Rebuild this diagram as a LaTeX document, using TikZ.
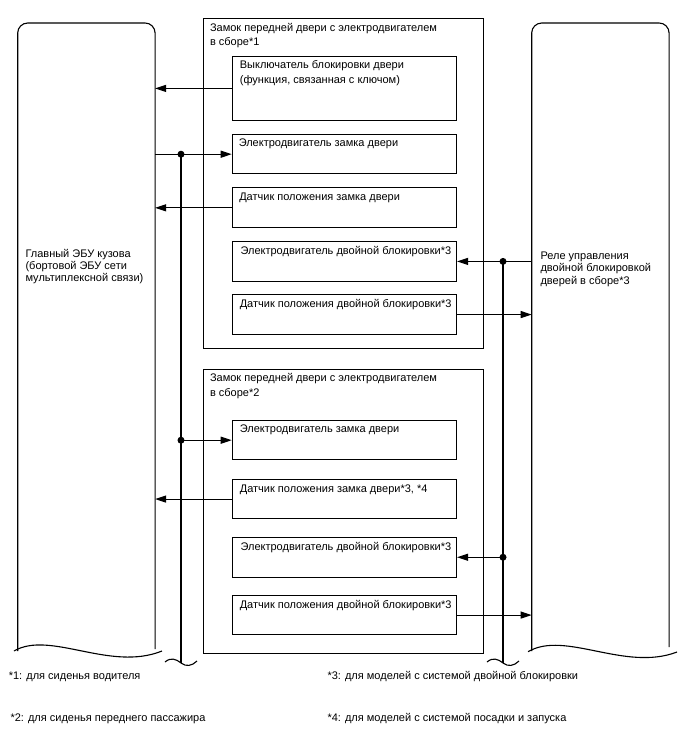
\documentclass[tikz,border=0pt]{standalone}
\usepackage{fontspec}
\setmainfont{Liberation Sans}
\usetikzlibrary{arrows.meta}

\begin{document}
\begin{tikzpicture}[x=1pt, y=-1pt, line width=1.1pt,
  box/.style={draw, anchor=north west, inner sep=0pt, minimum width=224.3pt},
  outerbox/.style={draw, anchor=north west, inner sep=0pt, minimum width=280.6pt},
  txt/.style={anchor=base west, inner sep=0pt, align=left, font=\fontsize{11}{14.5}\selectfont},
  ecutxt/.style={anchor=base west, inner sep=0pt, align=left, font=\fontsize{11}{12.3}\selectfont},
  dot/.style={circle, fill, inner sep=0pt, minimum size=7pt},
  sig/.style={-{Triangle[length=11pt,width=7pt]}}
]
\useasboundingbox (0,0) rectangle (688,755);

%% ECU and relay (only named, outline drawn below)
\node[anchor=north west, inner sep=0pt, minimum width=136.3pt, minimum height=627pt] (ecu) at (17.7,23) {};
\node[anchor=north west, inner sep=0pt, minimum width=136.3pt, minimum height=627pt] (relay) at (531.7,23) {};
\draw[rounded corners=10pt] (ecu.south west) |- (ecu.north) -| ([yshift=2]ecu.south east);
\draw[rounded corners=10pt] (relay.south west) |- (relay.north) -| ([yshift=4]relay.south east);
\draw (14,651) .. controls (50,630) and (110,672) .. (162,651);
\draw (528,651.7) .. controls (565,630) and (625,672) .. (677,652);
% base = last line
\node[ecutxt] (ecutext) at (25,281.8) {Главный ЭБУ кузова\\(бортовой ЭБУ сети\\мультиплексной связи)};
\node[ecutxt] (relaytext) at (540,284.2) {Реле управления\\двойной блокировкой\\дверей в сборе*3};

%% door lock assembly *1
\node[outerbox, minimum height=330pt] (lock1) at (202.7,18.3) {};
\node[txt] (lock1txt) at ([shift={(6.8,27.4)}]lock1.north west) {Замок передней двери с электродвигателем\\в сборе*1};
\node[box, minimum height=64.3pt] (swA) at (231.7,55.7) {};
\node[box, minimum height=39.3pt] (motB) at (231.7,134) {};
\node[box, minimum height=40pt] (senC) at (231.7,187.3) {};
\node[box, minimum height=40.3pt] (dblD) at (231.7,240.7) {};
\node[box, minimum height=40pt] (senE) at (231.7,294) {};
\node[txt] (swAtxt) at ([shift={(7.6,27.4)}]swA.north west) {Выключатель блокировки двери\\(функция, связанная с ключом)};
\node[txt] (motBtxt) at ([shift={(6.5,12.9)}]motB.north west) {Электродвигатель замка двери};
\node[txt] (senCtxt) at ([shift={(7,12.9)}]senC.north west) {Датчик положения замка двери};
\node[txt] (dblDtxt) at ([shift={(8.3,13.8)}]dblD.north west) {Электродвигатель двойной блокировки*3};
\node[txt] (senEtxt) at ([shift={(7.5,13.2)}]senE.north west) {Датчик положения двойной блокировки*3};

%% door lock assembly *2
\node[outerbox, minimum height=284.3pt] (lock2) at (202.7,369) {};
\node[txt] (lock2txt) at ([shift={(6.8,27.4)}]lock2.north west) {Замок передней двери с электродвигателем\\в сборе*2};
\node[box, minimum height=39.3pt] (motF) at (231.7,420) {};
\node[box, minimum height=38.4pt] (senG) at (231.7,479.3) {};
\node[box, minimum height=40pt] (dblH) at (231.7,536.7) {};
\node[box, minimum height=39pt] (senI) at (231.7,595) {};
\node[txt] (motFtxt) at ([shift={(7.6,12.9)}]motF.north west) {Электродвигатель замка двери};
\node[txt] (senGtxt) at ([shift={(7.6,12.9)}]senG.north west) {Датчик положения замка двери*3, *4};
\node[txt] (dblHtxt) at ([shift={(8.3,13.8)}]dblH.north west) {Электродвигатель двойной блокировки*3};
\node[txt] (senItxt) at ([shift={(7.5,13.2)}]senI.north west) {Датчик положения двойной блокировки*3};

%% buses
\coordinate (busL) at (181,663);
\coordinate (busR) at (503,663);
\node[dot] (jB) at (busL |- motB.west) {};
\node[dot] (jF) at (busL |- motF.west) {};
\node[dot] (jD) at (busR |- dblD.east) {};
\node[dot] (jH) at (busR |- dblH.east) {};
\draw (jB.center) -- (busL);
\draw (jD.center) -- (busR);
\draw (165,662) .. controls (171,657) and (176,659) .. (busL) .. controls (186,667) and (192,666) .. (197,661);
\draw (487,662) .. controls (493,657) and (498,659) .. (busR) .. controls (508,667) and (514,666) .. (519,661);

%% signals
\draw[sig] (swA.west) -- (swA.west -| ecu.east);
\draw[sig] (ecu.east |- motB.west) -- (motB.west);
\draw[sig] (senC.west) -- (senC.west -| ecu.east);
\draw[sig] (jF.center) -- (motF.west);
\draw[sig] (senG.west) -- (senG.west -| ecu.east);
\draw[sig] (relay.west |- dblD.east) -- (dblD.east);
\draw[sig] (senE.east) -- (senE.east -| relay.west);
\draw[sig] (jH.center) -- (dblH.east);
\draw[sig] (senI.east) -- (senI.east -| relay.west);

%% notes
\node[txt] (note1) at (8.3,679.5) {*1: для сиденья водителя};
\node[txt] (note2) at (10,721) {*2: для сиденья переднего пассажира};
\node[txt] (note3) at (327,679.5) {*3: для моделей с системой двойной блокировки};
\node[txt] (note4) at (327,721) {*4: для моделей с системой посадки и запуска};
\end{tikzpicture}
\end{document}
